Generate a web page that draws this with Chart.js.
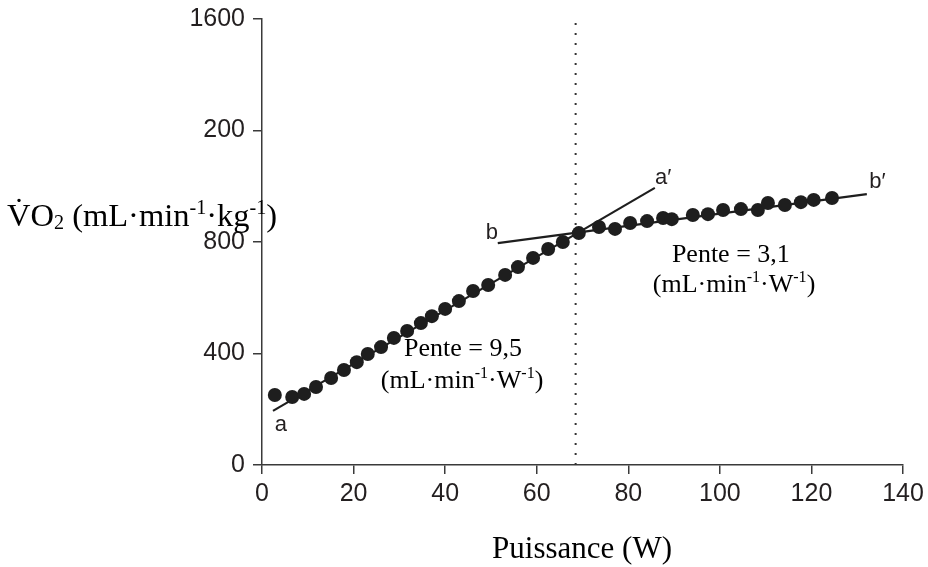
<!DOCTYPE html>
<html>
<head>
<meta charset="utf-8">
<script src="https://cdn.jsdelivr.net/npm/chart.js@4/dist/chart.umd.min.js"></script>
<style>
  html, body { margin: 0; padding: 0; background: #fff; }
  #wrap { width: 928px; height: 567px; position: relative; }
</style>
</head>
<body>
<div id="wrap"><canvas id="vo2Chart"></canvas></div>
<script>
// Data
const puissance = [2.8, 6.6, 9.2, 11.8, 15.1, 17.9, 20.7, 23.1, 26.0, 28.8, 31.7, 34.7, 37.1, 40.0, 43.0, 46.1, 49.4, 53.1, 55.9, 59.2, 62.5, 65.7, 69.2, 73.6, 77.1, 80.4, 84.1, 87.6, 89.5, 94.1, 97.4, 100.7, 104.6, 108.3, 110.5, 114.2, 117.7, 120.5, 124.5];
const vo2 = [251, 244, 255, 280, 312, 341, 369, 398, 423, 456, 481, 509, 534, 560, 588, 624, 646, 682, 710, 743, 775, 800, 832, 854, 847, 868, 875, 886, 882, 897, 900, 915, 918, 915, 940, 933, 943, 951, 958];

// fitted lines a-a' and b-b'
const lineAx = [2.4, 85.8];
const lineAy = [194, 994];
const lineBx = [51.5, 132.1];
const lineBy = [796, 972];

// threshold (dotted vertical line)
const seuilX = 68.5;
const seuilY = [0, 1600];

// y tick labels as printed on the figure
const yTickValues = [0, 400, 800, 1200, 1600];
const yTickLabels = ['0', '400', '800', '200', '1600'];
const xTickLabels = ['0', '20', '40', '60', '80', '100', '120', '140'];

const ink = '#231f20';
const axisColor = '#3a3a3a';

function toXY(xs, ys) {
    return xs.map((x, i) => ({ x: x, y: ys[i] }));
}

// draws text with super/subscript pieces
function drawRich(ctx, parts, x, y, size, family, align) {
    const pieces = parts.map(p => {
        const s = p.sup || p.sub ? size * 0.62 : size;
        ctx.font = s + 'px ' + family;
        return { t: p.t, s: s, w: ctx.measureText(p.t).width, sup: p.sup, sub: p.sub };
    });
    const total = pieces.reduce((a, p) => a + p.w, 0);
    let cx = align === 'center' ? x - total / 2 : x;
    ctx.textAlign = 'left';
    ctx.textBaseline = 'alphabetic';
    pieces.forEach(p => {
        ctx.font = p.s + 'px ' + family;
        let dy = 0;
        if (p.sup) dy = -size * 0.38;
        if (p.sub) dy = size * 0.08;
        ctx.fillText(p.t, cx, y + dy);
        cx += p.w;
    });
}

const serif = '"Liberation Serif", "Times New Roman", serif';
const sans = '"Liberation Sans", Arial, sans-serif';

const unitsW = [
    { t: '(mL·min' }, { t: '-1', sup: true }, { t: '·W' }, { t: '-1', sup: true }, { t: ')' }
];

const textPlugin = {
    id: 'figureText',
    afterDatasetsDraw(chart) {
        const ctx = chart.ctx;
        const xs = chart.scales.x;
        const ys = chart.scales.y;
        const px = v => xs.getPixelForValue(v);
        const py = v => ys.getPixelForValue(v);
        ctx.save();
        ctx.fillStyle = ink;

        // line letters
        ctx.font = '22px ' + sans;
        ctx.textAlign = 'center';
        ctx.textBaseline = 'middle';
        ctx.fillText('a', px(4.1), py(143));
        ctx.fillText('a\u2032', px(87.6), py(1029));
        ctx.fillText('b', px(50.2), py(832));
        ctx.fillText('b\u2032', px(134.4), py(1015));

        // slope annotations
        ctx.fillStyle = '#000';
        drawRich(ctx, [{ t: 'Pente = 9,5' }], px(43.9), py(391), 26, serif, 'center');
        drawRich(ctx, unitsW, px(43.7), py(276), 26, serif, 'center');
        drawRich(ctx, [{ t: 'Pente = 3,1' }], px(102.4), py(728), 26, serif, 'center');
        drawRich(ctx, unitsW, px(103.1), py(621), 26, serif, 'center');

        // axis titles
        drawRich(ctx, [
            { t: 'V\u0307O' }, { t: '2', sub: true }, { t: ' (mL·min' }, { t: '-1', sup: true },
            { t: '·kg' }, { t: '-1', sup: true }, { t: ')' }
        ], 7, 226, 32.5, serif, 'left');
        drawRich(ctx, [{ t: 'Puissance (W)' }], 582, 558, 31, serif, 'center');
        ctx.restore();
    }
};

const ctx = document.getElementById('vo2Chart').getContext('2d');
new Chart(ctx, {
    type: 'scatter',
    data: {
        datasets: [
            {
                label: 'points',
                data: toXY(puissance, vo2),
                backgroundColor: '#1e1e1e',
                borderColor: '#1e1e1e',
                pointRadius: 7,
                borderWidth: 0,
                order: 0
            },
            {
                label: 'a',
                data: toXY(lineAx, lineAy),
                showLine: true,
                borderColor: '#1e1e1e',
                borderWidth: 2.2,
                pointRadius: 0,
                order: 1
            },
            {
                label: 'b',
                data: toXY(lineBx, lineBy),
                showLine: true,
                borderColor: '#1e1e1e',
                borderWidth: 2.2,
                pointRadius: 0,
                order: 1
            },
            {
                label: 'seuil',
                data: toXY([seuilX, seuilX], seuilY),
                showLine: true,
                borderColor: '#333',
                borderWidth: 2,
                borderDash: [2, 8],
                pointRadius: 0,
                order: 2
            }
        ]
    },
    options: {
        responsive: true,
        maintainAspectRatio: false,
        animation: false,
        layout: { padding: { top: 19, right: 25, left: 0, bottom: 0 } },
        plugins: {
            legend: { display: false },
            tooltip: { enabled: false }
        },
        scales: {
            x: {
                type: 'linear',
                min: 0,
                max: 140,
                afterFit: s => { s.height = 102; s.paddingLeft = 0; s.paddingRight = 0; },
                afterBuildTicks: s => { s.ticks = xTickLabels.map(v => ({ value: Number(v) })); },
                border: { display: true, color: axisColor, width: 1.5 },
                grid: { drawOnChartArea: false, drawTicks: true, tickLength: 9, color: axisColor, lineWidth: 1.5 },
                ticks: {
                    color: ink,
                    font: { family: sans, size: 25, lineHeight: 1 },
                    padding: 8,
                    maxRotation: 0,
                    callback: (v, i) => xTickLabels[i]
                }
            },
            y: {
                type: 'linear',
                min: 0,
                max: 1600,
                afterFit: s => { s.width = 262; s.paddingTop = 0; s.paddingBottom = 0; },
                afterBuildTicks: s => { s.ticks = yTickValues.map(v => ({ value: v })); },
                border: { display: true, color: axisColor, width: 1.5 },
                grid: { drawOnChartArea: false, drawTicks: true, tickLength: 9, color: axisColor, lineWidth: 1.5 },
                ticks: {
                    color: ink,
                    font: { family: sans, size: 25, lineHeight: 1 },
                    padding: 8,
                    callback: (v, i) => yTickLabels[i]
                }
            }
        }
    },
    plugins: [textPlugin]
});
</script>
</body>
</html>
